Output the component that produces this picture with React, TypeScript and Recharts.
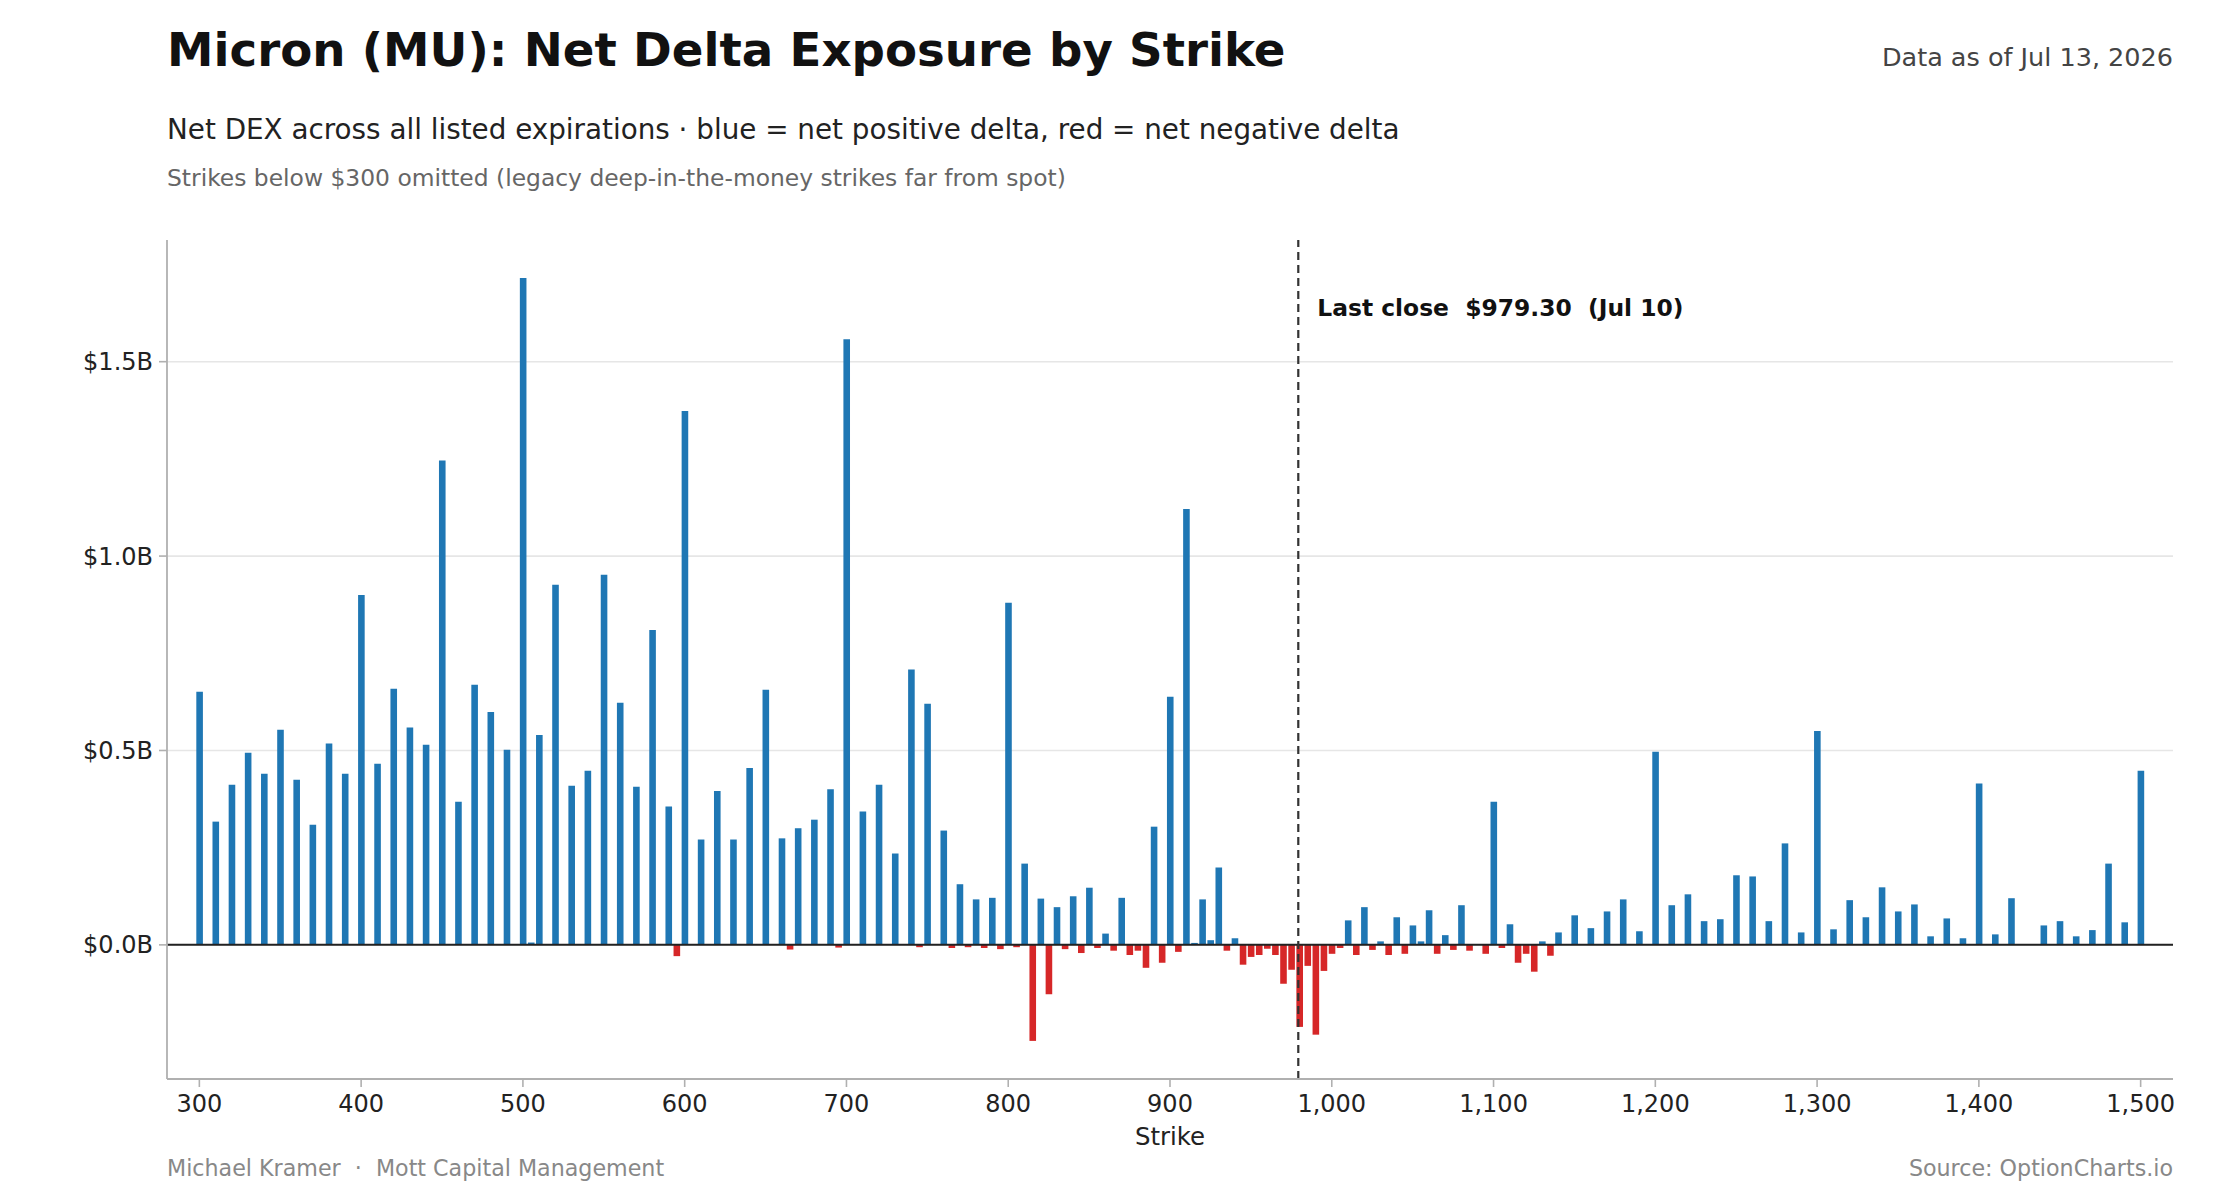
import * as React from 'react';
import {
  BarChart,
  Bar,
  Cell,
  XAxis,
  YAxis,
  CartesianGrid,
  ReferenceLine,
} from 'recharts';

// strike prices (USD), rows of ten
const STRIKES = [
  300, 310, 320, 330, 340, 350, 360, 370, 380, 390,
  400, 410, 420, 430, 440, 450, 460, 470, 480, 490,
  500, 505, 510, 520, 530, 540, 550, 560, 570, 580,
  590, 595, 600, 610, 620, 630, 640, 650, 660, 665,
  670, 680, 690, 695, 700, 710, 720, 730, 740, 745,
  750, 760, 765, 770, 775, 780, 785, 790, 795, 800,
  805, 810, 815, 820, 825, 830, 835, 840, 845, 850,
  855, 860, 865, 870, 875, 880, 885, 890, 895, 900,
  905, 910, 915, 920, 925, 930, 935, 940, 945, 950,
  955, 960, 965, 970, 975, 980, 985, 990, 995, 1000,
  1005, 1010, 1015, 1020, 1025, 1030, 1035, 1040, 1045, 1050,
  1055, 1060, 1065, 1070, 1075, 1080, 1085, 1095, 1100, 1105,
  1110, 1115, 1120, 1125, 1130, 1135, 1140, 1150, 1160, 1170,
  1180, 1190, 1200, 1210, 1220, 1230, 1240, 1250, 1260, 1270,
  1280, 1290, 1300, 1310, 1320, 1330, 1340, 1350, 1360, 1370,
  1380, 1390, 1400, 1410, 1420, 1440, 1450, 1460, 1470, 1480,
  1490, 1500,
];

// net delta exposure per strike, in $ billions (same order as STRIKES)
const NET_DEX_B = [
  0.651, 0.317, 0.412, 0.494, 0.44, 0.553, 0.425, 0.309, 0.518, 0.44,
  0.9, 0.466, 0.659, 0.559, 0.515, 1.246, 0.368, 0.669, 0.599, 0.502,
  1.715, 0.006, 0.54, 0.926, 0.409, 0.448, 0.952, 0.623, 0.407, 0.81,
  0.356, -0.029, 1.373, 0.271, 0.396, 0.271, 0.455, 0.656, 0.274, -0.012,
  0.3, 0.322, 0.4, -0.007, 1.558, 0.343, 0.412, 0.235, 0.708, -0.006,
  0.62, 0.294, -0.008, 0.156, -0.006, 0.117, -0.008, 0.121, -0.011, 0.88,
  -0.006, 0.209, -0.247, 0.119, -0.127, 0.097, -0.011, 0.125, -0.021, 0.147,
  -0.008, 0.029, -0.015, 0.121, -0.026, -0.015, -0.059, 0.304, -0.046, 0.638,
  -0.018, 1.121, 0.005, 0.117, 0.012, 0.199, -0.015, 0.017, -0.051, -0.031,
  -0.026, -0.01, -0.026, -0.1, -0.064, -0.211, -0.054, -0.231, -0.067, -0.023,
  -0.008, 0.063, -0.026, 0.097, -0.013, 0.009, -0.026, 0.071, -0.023, 0.05,
  0.009, 0.089, -0.023, 0.025, -0.013, 0.102, -0.015, -0.023, 0.368, -0.008,
  0.053, -0.046, -0.023, -0.069, 0.009, -0.028, 0.032, 0.076, 0.043, 0.086,
  0.117, 0.035, 0.497, 0.102, 0.13, 0.061, 0.066, 0.179, 0.176, 0.061,
  0.261, 0.032, 0.55, 0.04, 0.115, 0.071, 0.148, 0.086, 0.104, 0.022,
  0.068, 0.017, 0.415, 0.027, 0.12, 0.05, 0.061, 0.022, 0.038, 0.209,
  0.058, 0.448,
];

const X_TICKS = [300, 400, 500, 600, 700, 800, 900, 1000, 1100, 1200, 1300, 1400, 1500];
const Y_TICKS = [0, 0.5, 1.0, 1.5];

const LAST_CLOSE = 979.3;

const FONT = '"DejaVu Sans", Verdana, sans-serif';
const POS = '#1f77b4';
const NEG = '#d62728';
const SPINE = '#b0b0b0';

const data = STRIKES.map((strike, i) => ({ strike, dex: NET_DEX_B[i] }));

const fmtStrike = (v: number) => v.toLocaleString('en-US');
const fmtDex = (v: number) => `$${v.toFixed(1)}B`;

// text placed by baseline: with lineHeight 1 the DejaVu baseline sits ~0.846em below top
function Label({ text, size, baseline, color, left, right, bold, center }: any) {
  const style: React.CSSProperties = {
    position: 'absolute',
    top: baseline - size * 0.846,
    fontFamily: FONT,
    fontSize: size,
    lineHeight: 1,
    color,
    fontWeight: bold ? 700 : 400,
    whiteSpace: 'pre',
  };
  if (left !== undefined) style.left = left;
  if (right !== undefined) style.right = right;
  if (center !== undefined) {
    style.left = center;
    style.transform = 'translateX(-50%)';
  }
  return <div style={style}>{text}</div>;
}

function CloseLabel({ viewBox }: any) {
  if (!viewBox) return null;
  return (
    <text
      x={viewBox.x + 19}
      y={viewBox.y + 76}
      fontFamily={FONT}
      fontSize={23.4}
      fontWeight={700}
      fill="#111"
      style={{ whiteSpace: 'pre' }}
    >
      {`Last close  $${LAST_CLOSE.toFixed(2)}  (Jul 10)`}
    </text>
  );
}

export default function App() {
  return (
    <div
      style={{
        position: 'absolute',
        left: 0,
        top: 0,
        width: 2240,
        height: 1200,
        background: '#fff',
        overflow: 'hidden',
      }}
    >
      <Label text="Micron (MU): Net Delta Exposure by Strike" size={46.7} baseline={67} color="#111" left={167} bold />
      <Label text="Data as of Jul 13, 2026" size={25.5} baseline={67} color="#444" right={67} />
      <Label
        text="Net DEX across all listed expirations · blue = net positive delta, red = net negative delta"
        size={27.8}
        baseline={140}
        color="#222"
        left={167}
      />
      <Label
        text="Strikes below $300 omitted (legacy deep-in-the-money strikes far from spot)"
        size={23.4}
        baseline={187}
        color="#666"
        left={167}
      />

      <div style={{ position: 'absolute', left: 0, top: 0 }}>
        <BarChart
          width={2240}
          height={1200}
          data={data}
          margin={{ top: 240, right: 67, left: 67, bottom: 61 }}
        >
          {/* syncWithTicks keeps the grid to the y ticks only (no frame lines at the edges) */}
          <CartesianGrid horizontal vertical={false} syncWithTicks stroke="#e6e6e6" strokeWidth={1.6} />
          <XAxis
            type="number"
            dataKey="strike"
            domain={[280, 1520]}
            ticks={X_TICKS}
            tickFormatter={fmtStrike}
            allowDataOverflow
            height={60}
            axisLine={{ stroke: SPINE, strokeWidth: 1.8 }}
            tickLine={{ stroke: SPINE, strokeWidth: 1.6 }}
            tickSize={8}
            tickMargin={8}
            tick={{ fill: '#222', fontSize: 24, fontFamily: FONT }}
          />
          <YAxis
            type="number"
            domain={[-0.345, 1.813]}
            ticks={Y_TICKS}
            tickFormatter={fmtDex}
            allowDataOverflow
            width={100}
            axisLine={{ stroke: SPINE, strokeWidth: 1.8 }}
            tickLine={{ stroke: SPINE, strokeWidth: 1.6 }}
            tickSize={8}
            tickMargin={6}
            tick={{ fill: '#222', fontSize: 24, fontFamily: FONT }}
          />
          <Bar dataKey="dex" barSize={6.6} isAnimationActive={false}>
            {data.map((d) => (
              <Cell key={d.strike} fill={d.dex >= 0 ? POS : NEG} />
            ))}
          </Bar>
          <ReferenceLine y={0} stroke="#222" strokeWidth={2} />
          <ReferenceLine
            x={LAST_CLOSE}
            stroke="#333"
            strokeWidth={2.2}
            strokeDasharray="8 5"
            label={<CloseLabel />}
          />
        </BarChart>
      </div>

      <Label text="Strike" size={24.4} baseline={1146} color="#222" center={1170} />
      <Label text="Michael Kramer  ·  Mott Capital Management" size={22.2} baseline={1176} color="#888" left={167} />
      <Label text="Source: OptionCharts.io" size={22.2} baseline={1176} color="#888" right={67} />
    </div>
  );
}
